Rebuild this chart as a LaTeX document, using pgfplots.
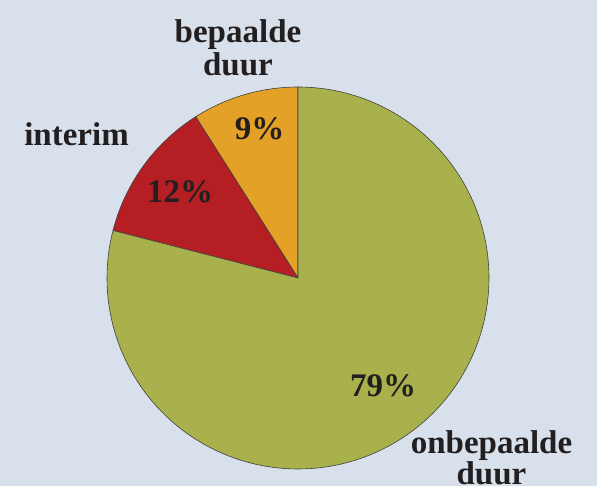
\documentclass[border=0pt]{standalone}
\usepackage{fontspec}
\setmainfont{Liberation Serif}
\usepackage{pgfplots}
\pgfplotsset{compat=1.18}
\definecolor{bg}{HTML}{D8E1EB}
\definecolor{sgreen}{HTML}{A9B14C}
\definecolor{sred}{HTML}{B51F24}
\definecolor{sorange}{HTML}{E4A127}
\definecolor{ink}{HTML}{231F20}
% shares in percent
\def\pOnb{79}
\def\pInt{12}
\def\pBep{9}
\tikzset{lbl/.style={font=\bfseries\fontsize{33}{33}\selectfont, text=ink, inner sep=0pt, anchor=base}}
\begin{document}
\begin{tikzpicture}
\begin{axis}[
    name=ax,
    width=597pt, height=486pt, scale only axis,
    xmin=0, xmax=597, ymin=0, ymax=486,
    axis lines=none, ticks=none,
]
\addplot[fill=bg, draw=none] coordinates {(0,0) (597,0) (597,486) (0,486)} -- cycle;
% slices, clockwise from 12 o'clock: bepaalde duur, interim, onbepaalde duur
\pgfmathsetmacro{\aA}{90}
\pgfmathsetmacro{\aB}{90+3.6*\pBep}
\pgfmathsetmacro{\aC}{\aB+3.6*\pInt}
\pgfmathsetmacro{\aD}{\aC+3.6*\pOnb}
\addplot[fill=sorange, draw=black!75, line width=0.6pt, domain=\aA:\aB, samples=30, variable=\t]
    ({298+191*cos(\t)}, {208+191*sin(\t)}) -- (axis cs:298,208) -- cycle;
\addplot[fill=sred, draw=black!75, line width=0.6pt, domain=\aB:\aC, samples=40, variable=\t]
    ({298+191*cos(\t)}, {208+191*sin(\t)}) -- (axis cs:298,208) -- cycle;
\addplot[fill=sgreen, draw=black!75, line width=0.6pt, domain=\aC:\aD, samples=200, variable=\t]
    ({298+191*cos(\t)}, {208+191*sin(\t)}) -- (axis cs:298,208) -- cycle;
\node[lbl] at (axis cs:259.5,346) {9\%};
\node[lbl] at (axis cs:180,283) {12\%};
\node[lbl] at (axis cs:383,89) {79\%};
\node[lbl] at (axis cs:76.5,340) {interim};
\node[lbl, anchor=north, align=center] at (axis cs:238,467) {bepaalde\\duur};
\node[lbl, anchor=south, align=center, font=\bfseries\fontsize{33}{31}\selectfont] at (axis cs:491.5,0.5) {onbepaalde\\duur};
\end{axis}
\pgfresetboundingbox
\path[use as bounding box] (ax.south west) rectangle (ax.north east);
\end{tikzpicture}
\end{document}
